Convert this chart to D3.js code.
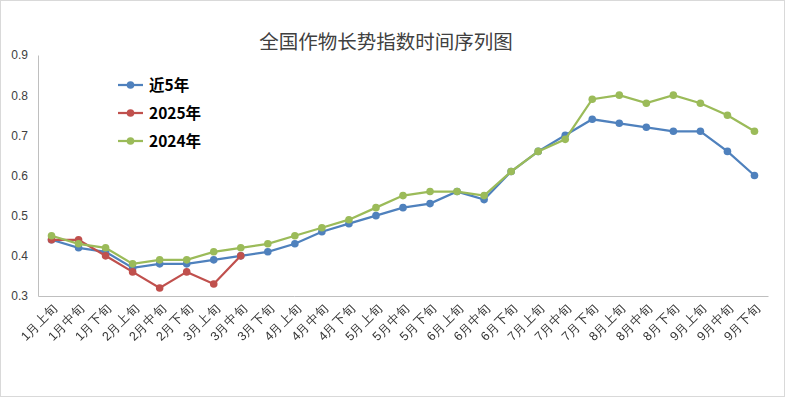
<!DOCTYPE html>
<html>
<head>
<meta charset="utf-8">
<script src="https://cdn.jsdelivr.net/npm/d3@7"></script>
<style>
  body { margin: 0; background: #fff; }
  svg { display: block; font-family: "Noto Sans CJK SC", "Noto Sans", sans-serif; }
</style>
</head>
<body>
<svg id="chart" width="785" height="397"></svg>
<script>
// categories (ten-day periods)
const periods = [
  "1月上旬", "1月中旬", "1月下旬", "2月上旬", "2月中旬", "2月下旬",
  "3月上旬", "3月中旬", "3月下旬", "4月上旬", "4月中旬", "4月下旬",
  "5月上旬", "5月中旬", "5月下旬", "6月上旬", "6月中旬", "6月下旬",
  "7月上旬", "7月中旬", "7月下旬", "8月上旬", "8月中旬", "8月下旬",
  "9月上旬", "9月中旬", "9月下旬"
];

// series values
const avg5 = [0.44, 0.42, 0.41, 0.37, 0.38, 0.38, 0.39, 0.40, 0.41, 0.43, 0.46, 0.48, 0.50,
  0.52, 0.53, 0.56, 0.54, 0.61, 0.66, 0.70, 0.74, 0.73, 0.72, 0.71, 0.71, 0.66, 0.60];
const y2025 = [0.44, 0.44, 0.40, 0.36, 0.32, 0.36, 0.33, 0.40];
const y2024 = [0.45, 0.43, 0.42, 0.38, 0.39, 0.39, 0.41, 0.42, 0.43, 0.45, 0.47, 0.49, 0.52,
  0.55, 0.56, 0.56, 0.55, 0.61, 0.66, 0.69, 0.79, 0.80, 0.78, 0.80, 0.78, 0.75, 0.71];

const y_ticks = [0.3, 0.4, 0.5, 0.6, 0.7, 0.8, 0.9];

const series = [
  { name: "近5年", values: avg5, color: "#4f81bd" },
  { name: "2025年", values: y2025, color: "#c0504d" },
  { name: "2024年", values: y2024, color: "#9bbb59" }
];

const svg = d3.select("#chart");
const margin = { left: 38, right: 17, top: 55, bottom: 101 };
const width = 785, height = 397;

// outer frame
svg.append("rect")
  .attr("x", 0.5).attr("y", 0.5)
  .attr("width", width - 1).attr("height", height - 1)
  .attr("fill", "#fff").attr("stroke", "#d9d9d9");

// title
svg.append("text")
  .attr("x", 386).attr("y", 49)
  .attr("text-anchor", "middle")
  .attr("font-size", 19.5)
  .attr("fill", "#404040")
  .text("全国作物长势指数时间序列图");

var x_scale = d3.scaleBand()
  .domain(periods)
  .range([margin.left, width - margin.right]);

var y_scale = d3.scaleLinear()
  .domain([0.3, 0.9])
  .range([height - margin.bottom, margin.top]);

// y axis
var y_axis = svg.append("g")
  .attr("transform", "translate(" + margin.left + ",0)")
  .call(d3.axisLeft(y_scale).tickValues(y_ticks).tickSize(0).tickPadding(10).tickFormat(d3.format(".1f")));
y_axis.select(".domain").attr("stroke", "#bfbfbf");
y_axis.selectAll("text")
  .attr("font-size", 12)
  .attr("fill", "#404040")
  .style("font-family", "'Liberation Sans', Arial, sans-serif");

// x axis
var x_axis = svg.append("g")
  .attr("transform", "translate(0," + (height - margin.bottom) + ")")
  .style("opacity", 0.999)
  .call(d3.axisBottom(x_scale).tickSize(0).tickSizeOuter(0));
x_axis.select(".domain").attr("stroke", "#bfbfbf");
x_axis.selectAll("text")
  .attr("font-size", 12.5)
  .attr("fill", "#333")
  .attr("text-anchor", "end")
  .attr("transform", "translate(4,10) rotate(-45)")
  .attr("dy", "0.35em")
  .attr("y", 0);

var line = d3.line()
  .x(function (d, i) { return x_scale(periods[i]) + x_scale.bandwidth() / 2; })
  .y(function (d) { return y_scale(d); });

series.forEach(function (s) {
  var g = svg.append("g").attr("class", "series");
  g.append("path")
    .datum(s.values)
    .attr("d", line)
    .attr("fill", "none")
    .attr("stroke", s.color)
    .attr("stroke-width", 2.25);
  g.selectAll(null)
    .data(s.values)
    .enter()
    .append("circle")
    .attr("cx", function (d, i) { return x_scale(periods[i]) + x_scale.bandwidth() / 2; })
    .attr("cy", function (d) { return y_scale(d); })
    .attr("r", 3.8)
    .attr("fill", s.color);
});

// legend
var leg = svg.append("g")
  .selectAll(null)
  .data(series)
  .enter()
  .append("g")
  .attr("transform", function (d, i) { return "translate(118," + (85 + i * 28) + ")"; });
leg.append("line")
  .attr("x1", 0).attr("x2", 25)
  .attr("stroke", function (d) { return d.color; })
  .attr("stroke-width", 2.25);
leg.append("circle")
  .attr("cx", 12.5).attr("r", 3.8)
  .attr("fill", function (d) { return d.color; });
leg.append("text")
  .attr("x", 31).attr("dy", "0.36em")
  .attr("font-size", 15.5)
  .attr("font-weight", "bold")
  .attr("fill", "#000")
  .text(function (d) { return d.name; });
</script>
</body>
</html>
